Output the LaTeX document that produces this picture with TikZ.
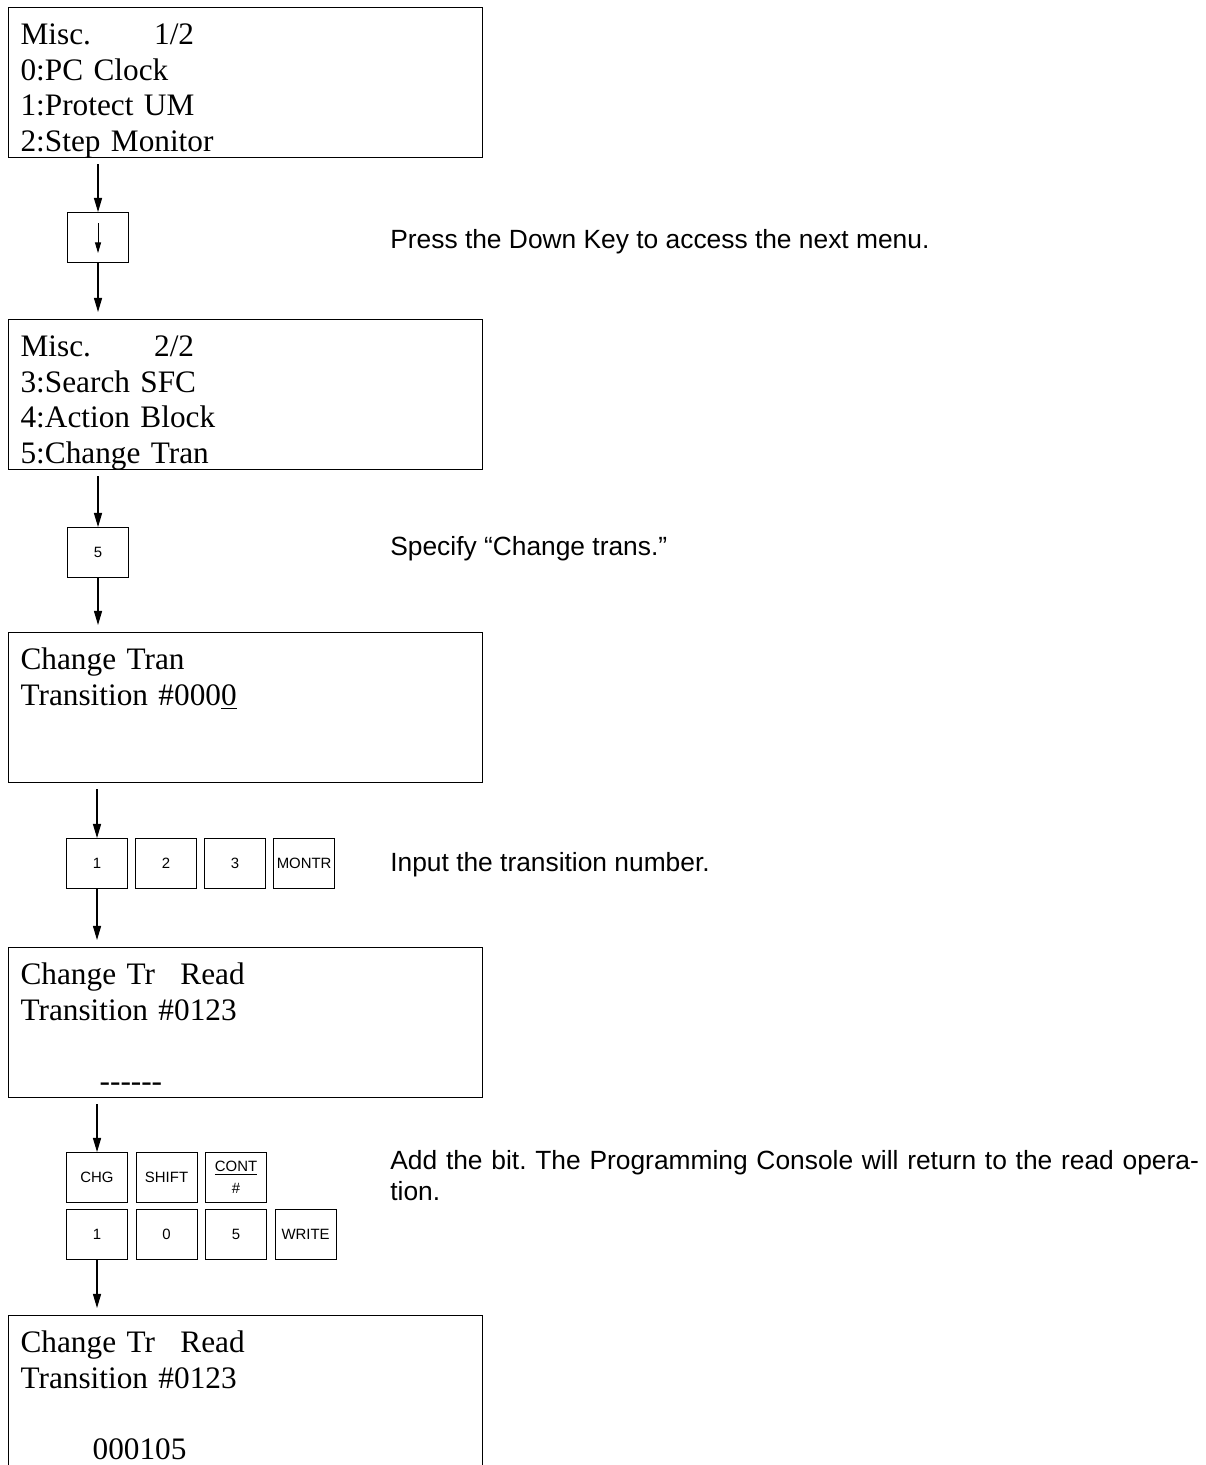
\documentclass[tikz,border=0pt]{standalone}
\usepackage{fontspec}
\setmainfont{Liberation Serif}
\setsansfont{Liberation Sans}
\usepackage{tikz}
\usetikzlibrary{
    arrows.meta,
    positioning
}
\frenchspacing
\tikzset{
    % LCD screen of the console, first baseline fixed by text height
    screen/.style={
        draw,
        line width=0.7pt,
        anchor=north west,
        text width=9cm,
        align=left,
        inner xsep=0.24cm,
        inner ysep=0pt,
        text height=0.74cm,
        text depth=2.26cm,
        font=\fontsize{17.8}{20.2}\selectfont,
    },
    % Console key
    key/.style={
        draw,
        line width=0.6pt,
        anchor=north west,
        minimum width=1.22cm,
        minimum height=1.0cm,
        inner sep=0pt,
        align=center,
        font=\sffamily\fontsize{8.5}{12.5}\selectfont,
    },
    % Arrow between screens and keys
    flow/.style={
        -{Triangle[length=8pt, width=4.6pt]},
        line width=0.6pt,
    },
    % Explanation at the right
    note/.style={
        anchor=base west,
        inner sep=0pt,
        font=\sffamily\fontsize{15}{18.2}\selectfont,
    },
}
\begin{document}
\begin{tikzpicture}[x=0.02cm, y=-0.02cm]
    \useasboundingbox (0,0) rectangle (1206,1465);

    \node (scr1) [screen] at (8,7) {\makebox[76pt][l]{Misc.}1/2\\0:PC Clock\\1:Protect UM\\2:Step Monitor};
    \node (kdown) [key] at (67,212) {};
    \node (scr2) [screen] at (8,319) {\makebox[76pt][l]{Misc.}2/2\\3:Search SFC\\4:Action Block\\5:Change Tran};
    \node (kfive) [key] at (67,527) {5};
    \node (scr3) [screen] at (8,632) {Change Tran\\Transition \#000\underline{0}};
    \node (kone) [key] at (66,838) {1};
    \node (ktwo) [key, right=0.14cm of kone] {2};
    \node (kthree) [key, right=0.14cm of ktwo] {3};
    \node (kmontr) [key, right=0.14cm of kthree] {MONTR};
    \node (scr4) [screen] at (8,947) {\makebox[91pt][l]{Change Tr}Read\\Transition \#0123\\ \mbox{}\\\hspace*{45pt}\mbox{-}\mbox{-}\mbox{-}\mbox{-}\mbox{-}\mbox{-}};
    \node (kchg) [key] at (66,1152) {CHG};
    \node (kshift) [key, right=0.15cm of kchg] {SHIFT};
    \node (kcont) [key, right=0.15cm of kshift] {\underline{CONT}\\\#};
    \node (kbone) [key, below=0.12cm of kchg] {1};
    \node (kbzero) [key, right=0.15cm of kbone] {0};
    \node (kbfive) [key, right=0.15cm of kbzero] {5};
    \node (kwrite) [key, right=0.15cm of kbfive] {WRITE};
    \node (scr5) [screen, text depth=2.4cm] at (8,1315) {\makebox[91pt][l]{Change Tr}Read\\Transition \#0123\\ \mbox{}\\\hspace*{41pt}000105};

    \node (press) [note] at (390,248) {Press the Down Key to access the next menu.};
    \node (specify) [note] at (390,555) {Specify “Change trans.”};
    \node (input) [note] at (390,871) {Input the transition number.};
    \node (addbit) [note, text width=16.6cm, align=left] at (390,1169) {Add the bit. The Programming Console will return to the read opera-\\tion.};

    \draw [flow, shorten <=3.4pt] (scr1.south -| kdown.north) -- (kdown.north);
    \draw [-{Triangle[length=6pt, width=3.4pt]}, line width=0.5pt] ([yshift=-6.3pt]kdown.north) -- ([yshift=5.7pt]kdown.south);
    \draw [flow, shorten >=4pt] (kdown.south) -- (kdown.south |- scr2.north);
    \draw [flow, shorten <=3.4pt] (scr2.south -| kfive.north) -- (kfive.north);
    \draw [flow, shorten >=4pt] (kfive.south) -- (kfive.south |- scr3.north);
    \draw [flow, shorten <=3.4pt] (scr3.south -| kone.north) -- (kone.north);
    \draw [flow, shorten >=4pt] (kone.south) -- (kone.south |- scr4.north);
    \draw [flow, shorten <=3.4pt] (scr4.south -| kchg.north) -- (kchg.north);
    \draw [flow, shorten >=4pt] (kbone.south) -- (kbone.south |- scr5.north);
\end{tikzpicture}
\end{document}
